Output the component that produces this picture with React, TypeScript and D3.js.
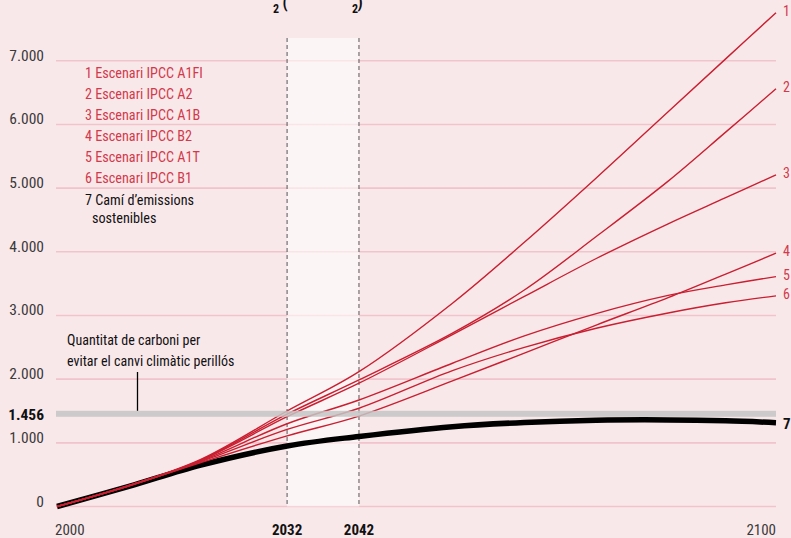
import React from "react";
import * as d3 from "d3";

const years = [2000, 2010, 2020, 2032, 2042, 2055, 2065, 2075, 2085, 2093, 2100];
const scenario1 = [0, 330, 740, 1500, 2118, 3193, 4150, 5160, 6200, 7030, 7755];
const scenario2 = [0, 330, 730, 1450, 1988, 2722, 3400, 4240, 5110, 5880, 6560];
const scenario3 = [0, 328, 725, 1410, 1936, 2700, 3300, 3895, 4440, 4850, 5209];
const scenario4 = [0, 322, 690, 1110, 1420, 1972, 2410, 2850, 3280, 3650, 3979];
const scenario5 = [0, 326, 715, 1300, 1673, 2250, 2680, 3030, 3315, 3480, 3611];
const scenario6 = [0, 324, 705, 1210, 1543, 2134, 2500, 2800, 3040, 3200, 3308];
const sustainable = [0, 315, 650, 950, 1100, 1254, 1320, 1355, 1360, 1345, 1317];

const redSeries = [scenario1, scenario2, scenario3, scenario4, scenario5, scenario6];
const seriesLabels = ["1", "2", "3", "4", "5", "6"];
const legendItems = [
  "1 Escenari IPCC A1FI",
  "2 Escenari IPCC A2",
  "3 Escenari IPCC A1B",
  "4 Escenari IPCC B2",
  "5 Escenari IPCC A1T",
  "6 Escenari IPCC B1",
];
const legendBlack = ["7 Camí d’emissions", "sostenibles"];
const yTicks = [0, 1000, 2000, 3000, 4000, 5000, 6000, 7000];
const threshold = 1456;
const windowYears = [2032, 2042];
const xTickYears = [2000, 2032, 2042, 2100];
const annotation = ["Quantitat de carboni per", "evitar el canvi climàtic perillós"];
const titleParts = ["Emissions acumulades de CO", "2", "(", "Gt de CO", "2", ")"];

const W = 791;
const H = 538;
const FONT = "'Roboto Condensed', Roboto, sans-serif";
const BG = "#f9e8ea";
const GRID = "#f1c3ca";
const RED = "#c91f30";
const RED_TXT = "#d23a4a";

const fmt = (v: number) => d3.format(",")(v).replace(/,/g, ".");

export default function App() {
  const x = d3.scaleLinear().domain([2000, 2100]).range([57, 776]);
  const y = d3.scaleLinear().domain([0, 7000]).range([506.5, 60.8]);
  const line = d3
    .line<number>()
    .x((_, i) => x(years[i]))
    .y((d) => y(d))
    .curve(d3.curveCatmullRom.alpha(0.5));

  return (
    <svg
      width={W}
      height={H}
      style={{ position: "absolute", left: 0, top: 0, fontFamily: FONT }}
    >
      <rect x={0} y={0} width={W} height={H} fill={BG} />

      {/* title, cut by the top edge as in the source */}
      <text x={272} y={-3} fontSize={17} textAnchor="end" fontWeight="bold" fill="#111">
        {titleParts[0]}
      </text>
      <text x={273} y={13} fontSize={12} fontWeight="bold" fill="#111">
        {titleParts[1]}
      </text>
      <text x={282.5} y={8} fontSize={16} fontWeight="bold" fill="#111">
        {titleParts[2]}
      </text>
      <text x={351} y={-3} fontSize={17} textAnchor="end" fontWeight="bold" fill="#111">
        {titleParts[3]}
      </text>
      <text x={352} y={13} fontSize={12} fontWeight="bold" fill="#111">
        {titleParts[4]}
      </text>
      <text x={357.5} y={8} fontSize={16} fontWeight="bold" fill="#111">
        {titleParts[5]}
      </text>

      {yTicks.map((t) => (
        <line key={t} x1={56} x2={776} y1={y(t)} y2={y(t)} stroke={GRID} strokeWidth={1.6} />
      ))}

      <rect
        x={x(windowYears[0])}
        y={38}
        width={x(windowYears[1]) - x(windowYears[0])}
        height={y(0) - 38}
        fill="#fff"
        opacity={0.55}
      />
      {windowYears.map((yr) => (
        <line
          key={yr}
          x1={x(yr)}
          x2={x(yr)}
          y1={38}
          y2={y(0)}
          stroke="#555"
          strokeWidth={1}
          strokeDasharray="4,3"
        />
      ))}

      <path d={line(sustainable) || ""} fill="none" stroke="#000" strokeWidth={5.5} />
      {redSeries.map((s, i) => (
        <path key={i} d={line(s) || ""} fill="none" stroke={RED} strokeWidth={1.4} />
      ))}

      <rect x={56} y={y(threshold) - 3} width={720} height={6} fill="#c4c4c4" opacity={0.85} />
      <line x1={137.5} x2={137.5} y1={372} y2={y(threshold) - 3} stroke="#000" strokeWidth={1.3} />

      {annotation.map((t, i) => (
        <text key={i} x={67} y={345 + i * 20.5} fontSize={14} fill="#111">
          {t}
        </text>
      ))}

      {yTicks.map((t) => (
        <text key={t} x={44} y={y(t)} fontSize={15.5} textAnchor="end" fill="#3a3a3a">
          {fmt(t)}
        </text>
      ))}
      <text x={44} y={y(threshold) + 6} fontSize={15.5} textAnchor="end" fontWeight="bold" fill="#111">
        {fmt(threshold)}
      </text>

      {xTickYears.map((yr, i) => {
        const edge = i === 0 || i === xTickYears.length - 1;
        return (
          <text
            key={yr}
            x={i === 0 ? x(yr) - 2 : x(yr)}
            y={535}
            fontSize={15}
            textAnchor={i === 0 ? "start" : i === xTickYears.length - 1 ? "end" : "middle"}
            fontWeight={edge ? "normal" : "bold"}
            fill={edge ? "#3a3a3a" : "#111"}
          >
            {yr}
          </text>
        );
      })}

      {legendItems.map((t, i) => (
        <text key={t} x={85} y={77.7 + i * 21.1} fontSize={14.2} fill={RED_TXT}>
          {t}
        </text>
      ))}
      <text x={85} y={205} fontSize={14.2} fill="#111">
        {legendBlack[0]}
      </text>
      <text x={92} y={223} fontSize={14.2} fill="#111">
        {legendBlack[1]}
      </text>

      {redSeries.map((s, i) => (
        <text key={i} x={783} y={y(s[s.length - 1]) + 3} fontSize={14} fill={RED_TXT}>
          {seriesLabels[i]}
        </text>
      ))}
      <text x={783} y={y(sustainable[sustainable.length - 1]) + 6} fontSize={15} fontWeight="bold" fill="#111">
        7
      </text>
    </svg>
  );
}
